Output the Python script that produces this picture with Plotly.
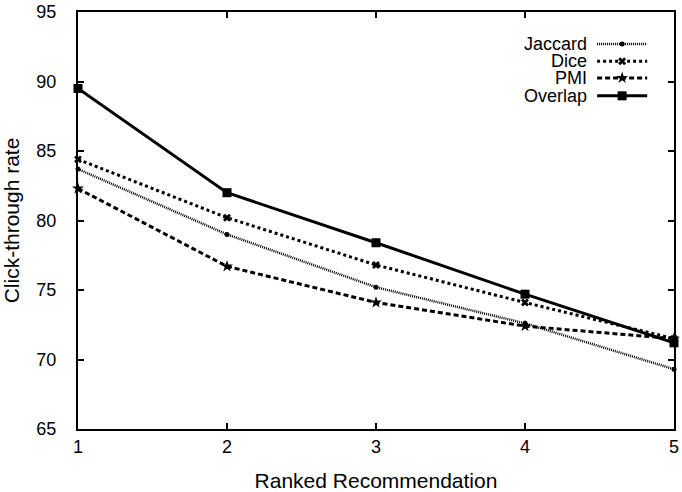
import plotly.graph_objects as go

ranks = [1, 2, 3, 4, 5]
jaccard = [83.7, 79.0, 75.2, 72.6, 69.3]
dice = [84.4, 80.2, 76.8, 74.1, 71.5]
pmi = [82.3, 76.7, 74.1, 72.4, 71.5]
overlap = [89.5, 82.0, 78.4, 74.7, 71.2]
series_names = ["Jaccard", "Dice", "PMI", "Overlap"]
y_ticks = [65, 70, 75, 80, 85, 90, 95]

styles = {
    "Jaccard": dict(dash="1px,1px", width=2.5, symbol="circle", size=5),
    "Dice": dict(dash="3px,3px", width=3, symbol="x", size=7),
    "PMI": dict(dash="5px,3px", width=3, symbol="star", size=9),
    "Overlap": dict(dash="solid", width=3, symbol="square", size=9),
}
data = {"Jaccard": jaccard, "Dice": dice, "PMI": pmi, "Overlap": overlap}

fig = go.Figure()
for name in series_names:
    s = styles[name]
    fig.add_trace(go.Scatter(
        x=ranks, y=data[name], mode="lines+markers", name=name,
        line=dict(color="black", width=s["width"], dash=s["dash"]),
        marker=dict(color="black", symbol=s["symbol"], size=s["size"]),
        showlegend=False, cliponaxis=False))

# custom legend (text left of sample) on hidden overlay axes
leg_y = [0.923, 0.882, 0.842, 0.799]
for name, yy in zip(series_names, leg_y):
    s = styles[name]
    fig.add_trace(go.Scatter(
        x=[0.871, 0.955], y=[yy, yy], mode="lines", xaxis="x2", yaxis="y2",
        line=dict(color="black", width=s["width"], dash=s["dash"]),
        showlegend=False, hoverinfo="skip"))
    fig.add_trace(go.Scatter(
        x=[0.913], y=[yy], mode="markers", xaxis="x2", yaxis="y2",
        marker=dict(color="black", symbol=s["symbol"], size=s["size"]),
        showlegend=False, hoverinfo="skip"))
    fig.add_annotation(x=0.856, y=yy, xref="x2", yref="y2", text=name,
                       showarrow=False, xanchor="right", yanchor="middle",
                       borderpad=0,
                       font=dict(size=18, color="black"))

axis_common = dict(showgrid=False, zeroline=False, showline=True, linecolor="black",
                   linewidth=2, mirror="ticks", ticks="inside", ticklen=6,
                   tickcolor="black", tickwidth=1.5, automargin=False,
                   tickfont=dict(size=18, color="black"))

fig.update_layout(
    width=682, height=492,
    margin=dict(l=78, r=8, t=12, b=63),
    paper_bgcolor="white", plot_bgcolor="white",
    font=dict(family="Liberation Sans, Arial, sans-serif", color="black"),
    xaxis=dict(range=[1, 5], tickvals=ranks, ticklabelstandoff=0,
               title=dict(text="Ranked Recommendation", font=dict(size=21), standoff=20),
               **axis_common),
    yaxis=dict(range=[65, 95], tickvals=y_ticks, ticklabelstandoff=16,
               title=dict(text="Click-through rate", font=dict(size=21), standoff=11),
               **axis_common),
    xaxis2=dict(overlaying="x", range=[0, 1], visible=False),
    yaxis2=dict(overlaying="y", range=[0, 1], visible=False),
)

fig.write_html("out.html", config={"displayModeBar": False},
               post_script="document.body.style.margin='0';")
